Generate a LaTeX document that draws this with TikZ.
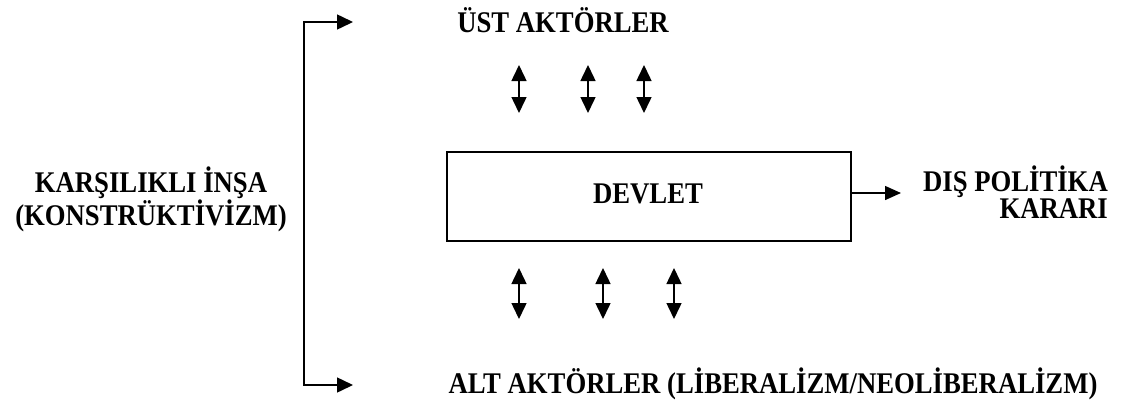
\documentclass[tikz,border=0pt]{standalone}
\usepackage{fontspec}
\setmainfont{Liberation Serif}
\newfontfamily\dar{Liberation Serif}[FakeStretch=0.89]
\usetikzlibrary{arrows.meta}

\begin{document}
\begin{tikzpicture}[
  x=1pt, y=-1pt,
  etiket/.style={font=\dar\bfseries\fontsize{30}{27.5}\selectfont, inner sep=0pt},
  kutu/.style={draw, line width=2pt, minimum width=404pt, minimum height=89pt},
  ok/.style={line width=1.5pt, -{Triangle[length=16pt,width=14pt]}},
  ciftok/.style={line width=1.5pt, {Triangle[length=16pt,width=15pt]}-{Triangle[length=16pt,width=15pt]}},
]
\useasboundingbox (0,0) rectangle (1127,405);

\node [etiket, anchor=base] (ust) at (563,32) {ÜST AKTÖRLER};
\node [etiket, anchor=base] (alt) at (773,393) {ALT AKTÖRLER (LİBERALİZM/NEOLİBERALİZM)};
\node [kutu, etiket] (devlet) at (649,196.5) {};
\node [etiket, anchor=base] at (648,203) {DEVLET};
\node [etiket, align=right, anchor=east] (karar) at (1108,192) {DIŞ POLİTİKA\\KARARI};
\node [etiket, align=center] (insa) at (151,199) {KARŞILIKLI İNŞA\\(KONSTRÜKTİVİZM)};

\coordinate (ustuc) at (353,22);
\coordinate (altuc) at (353,385);
\coordinate (kararuc) at (901,193);

% karsilikli insa
\draw [ciftok] (ustuc) -- (304,22) -- (304,385) -- (altuc);

\draw [ok] (devlet.east |- kararuc) -- (kararuc);

\foreach \x in {519,588,644}
  \draw [ciftok] (\x,65) -- (\x,113);
\foreach \x in {519,603,674}
  \draw [ciftok] (\x,268) -- (\x,319);

\end{tikzpicture}
\end{document}
